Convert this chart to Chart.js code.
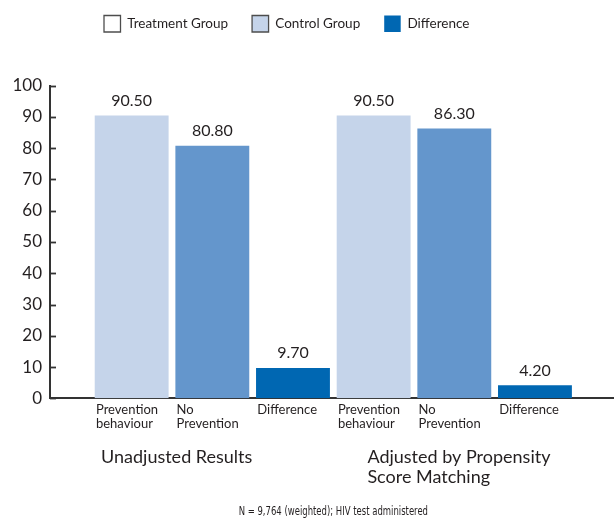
<!DOCTYPE html>
<html>
<head>
<meta charset="utf-8">
<script src="https://cdn.jsdelivr.net/npm/chart.js@4"></script>
<style>
  html, body { margin: 0; padding: 0; background: #fff; }
</style>
</head>
<body>
<canvas id="c" width="614" height="518"></canvas>
<script>
// ---- data ----
const categories = [
  ['Prevention', 'behaviour'], ['No', 'Prevention'], ['Difference'],
  ['Prevention', 'behaviour'], ['No', 'Prevention'], ['Difference']
];
const values = [90.5, 80.8, 9.7, 90.5, 86.3, 4.2];
const groups = [['Unadjusted Results'], ['Adjusted by Propensity', 'Score Matching']];
const groupFirstBar = [0, 3];
const legendNames = ['Treatment Group', 'Control Group', 'Difference'];
const yMin = 0, yMax = 100, yStep = 10;
const footnote = 'N = 9,764 (weighted); HIV test administered';

// ---- styling ----
const TEXT = '#231f20';
const AXIS = '#333333';
const FONT = 'Lato, "Open Sans", sans-serif';
const barColors = ['#c5d4ea', '#6496cc', '#0067b2'];
const legendFill = ['#ffffff', '#c5d4ea', '#0067b2'];
const legendStroke = ['#4d4d4d', '#4d4d4d', '#0067b2'];
const legendLine = [1.3, 1.3, 0];

// bars sit at positions 1..n on a numeric axis, leaving room next to the value axis
const points = values.map((v, i) => ({ x: i + 1, y: v }));
const colors = values.map((_, i) => barColors[i % barColors.length]);

const decor = {
  id: 'decor',
  beforeInit(chart) {
    const legend = chart.legend;
    const fit = legend.fit;
    legend.fit = function () { fit.call(this); this.height = 85.7; };
  },
  afterLayout(chart) {
    const legend = chart.legend;
    const pad = legend.options.labels.padding;
    legend.left = 104 - pad;
    legend.top = 15.5 - pad;
  },
  afterDatasetsDraw(chart) {
    const ctx = chart.ctx;
    const area = chart.chartArea;
    const meta = chart.getDatasetMeta(0);
    const y = chart.scales.y;
    const bar = i => meta.data[i];
    ctx.save();
    ctx.fillStyle = TEXT;

    // value labels above each bar
    ctx.font = '16px ' + FONT;
    ctx.textAlign = 'center';
    ctx.textBaseline = 'alphabetic';
    values.forEach((v, i) => {
      const el = bar(i);
      ctx.fillText(v.toFixed(2), el.x, el.y - 9.5);
    });

    // short inward tick marks on the value axis
    ctx.strokeStyle = AXIS;
    ctx.lineWidth = 1.8;
    y.ticks.forEach(t => {
      const py = Math.round(y.getPixelForValue(t.value)) + 0.5;
      ctx.beginPath();
      ctx.moveTo(area.left, py);
      ctx.lineTo(area.left + 6, py);
      ctx.stroke();
    });

    // group captions under the category labels
    ctx.font = '18px ' + FONT;
    ctx.textAlign = 'left';
    ctx.textBaseline = 'middle';
    const groupShift = [6.3, 30.7];
    groups.forEach((lines, g) => {
      const el = bar(groupFirstBar[g]);
      const x0 = el.x - el.width / 2 + groupShift[g];
      lines.forEach((ln, k) => ctx.fillText(ln, x0, 457.6 + k * 19.4));
    });

    // footnote centred under the bars, set in a narrow face
    const first = bar(0), last = bar(values.length - 1);
    const cx = ((first.x - first.width / 2) + (last.x + last.width / 2)) / 2;
    ctx.font = '11.5px "DejaVu Sans Condensed", "DejaVu Sans", sans-serif';
    ctx.textAlign = 'center';
    ctx.translate(cx, chart.height - 5.5);
    ctx.scale(0.82, 1);
    ctx.fillText(footnote, 0, 0);
    ctx.restore();
  }
};

new Chart(document.getElementById('c'), {
  type: 'bar',
  data: {
    datasets: [{
      data: points,
      backgroundColor: colors,
      borderWidth: 0,
      barPercentage: 0.916,
      categoryPercentage: 1
    }]
  },
  options: {
    responsive: false,
    animation: false,
    devicePixelRatio: 1,
    layout: { padding: 0 },
    plugins: {
      tooltip: { enabled: false },
      legend: {
        position: 'top',
        align: 'start',
        onClick: null,
        labels: {
          boxWidth: 16.5,
          boxHeight: 16.5,
          padding: 24,
          color: TEXT,
          font: { family: FONT, size: 13.5 },
          generateLabels: () => legendNames.map((name, i) => ({
            text: name,
            fillStyle: legendFill[i],
            strokeStyle: legendStroke[i],
            lineWidth: legendLine[i],
            fontColor: TEXT,
            hidden: false,
            index: i
          }))
        }
      }
    },
    scales: {
      x: {
        type: 'linear',
        offset: false,
        min: -0.0125,
        max: 6.98,
        grid: { display: false, drawTicks: false },
        border: { display: true, color: AXIS, width: 2 },
        afterBuildTicks: s => { s.ticks = categories.map((_, i) => ({ value: i + 1 })); },
        ticks: {
          autoSkip: false,
          maxRotation: 0,
          align: 'start',
          labelOffset: -35.7,
          padding: 5,
          color: TEXT,
          font: { family: FONT, size: 13, lineHeight: 1.05 },
          callback: v => categories[v - 1] || ''
        },
        afterFit: s => { s.height = 119.7; }
      },
      y: {
        min: yMin,
        max: yMax,
        grid: { display: false, drawTicks: false },
        border: { display: true, color: AXIS, width: 2 },
        ticks: {
          stepSize: yStep,
          padding: 8,
          color: TEXT,
          font: { family: FONT, size: 17 }
        },
        afterFit: s => { s.width = 50; }
      }
    }
  },
  plugins: [decor]
});
</script>
</body>
</html>
